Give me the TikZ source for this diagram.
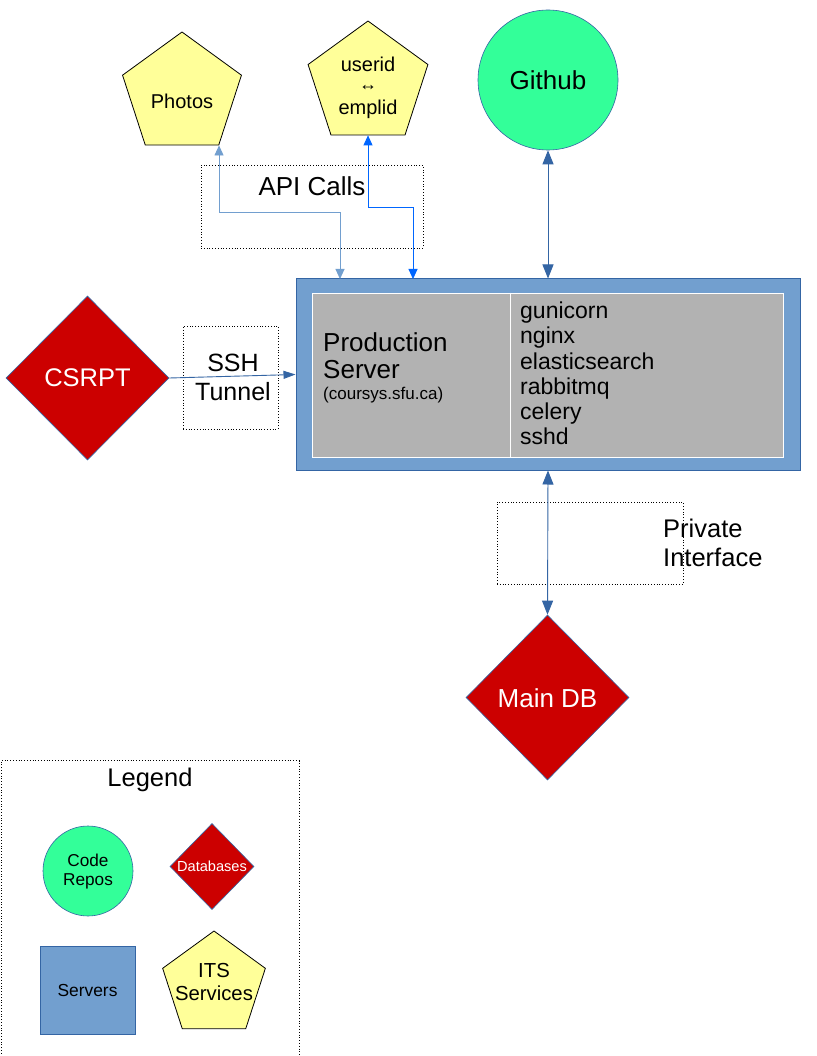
\documentclass[tikz,border=0pt]{standalone}
\usepackage{fontspec}
\setmainfont{Liberation Sans}
\usetikzlibrary{shapes.geometric,arrows.meta}
\definecolor{its}{HTML}{FFFF99}
\definecolor{repo}{HTML}{33FF99}
\definecolor{dbred}{HTML}{CC0000}
\definecolor{srv}{HTML}{729FCF}
\definecolor{srvline}{HTML}{3465A4}
\definecolor{graybox}{HTML}{B2B2B2}
\definecolor{brightblue}{HTML}{0066FF}
\newcommand{\fs}[1]{\fontsize{#1}{#1}\selectfont}
\tikzset{
  itsbox/.style={regular polygon, regular polygon sides=5, fill=its, draw=black, line width=0.8pt, inner sep=0pt},
  repobox/.style={circle, fill=repo, draw=srvline, line width=0.6pt, inner sep=0pt},
  dbbox/.style={diamond, fill=dbred, draw=srvline, line width=0.6pt, inner sep=0pt},
  srvbox/.style={rectangle, fill=srv, draw=srvline, line width=1pt, inner sep=0pt},
  dotbox/.style={rectangle, draw=black, dotted, line width=0.8pt, inner sep=0pt},
  txt/.style={inner sep=0pt, text=black},
  wtxt/.style={inner sep=0pt, text=white},
  conn/.style={line width=0.9pt, draw=srvline, {Triangle[length=14pt,width=11pt]}-{Triangle[length=14pt,width=11pt]}},
  apiconn/.style={line width=0.9pt, {Triangle[length=10pt,width=9pt]}-{Triangle[length=10pt,width=9pt]}},
}
\begin{document}
\begin{tikzpicture}[x=1pt,y=-1pt]
\useasboundingbox (0,0) rectangle (816,1056);
\fill[white] (0,0) rectangle (816,1056);

% dotted label boxes
\node[dotbox, minimum width=222, minimum height=83] (apibox) at (312,206.5) {};
\node[dotbox, minimum width=95, minimum height=103] (sshbox) at (230.5,377.5) {};
\node[dotbox, minimum width=186, minimum height=82] (privbox) at (590,543) {};

% ITS services
\node[itsbox, minimum size=125] (photos) at (182,94.5) {};
\node[txt, font=\fs{20}] (photostxt) at (182,101) {Photos};
\node[itsbox, minimum size=126] (userid) at (368,84) {};
\node[txt, font=\fs{20}] (useridtxt) at (368,64) {userid};
\node[txt, font=\fs{18}] (arrtxt) at (368,88) {↔};
\node[txt, font=\fs{20}] (emplidtxt) at (368,109) {emplid};

% Github
\node[repobox, minimum size=140] (github) at (548,80) {};
\node[txt, font=\fs{26}] (githubtxt) at (548,80) {Github};

% Production server
\node[srvbox, minimum width=504, minimum height=191] (server) at (548,374.5) {};
\node[rectangle, fill=graybox, draw=white, line width=0.8pt, minimum width=471, minimum height=164, inner sep=0pt] (inner) at (547.5,375) {};
\draw[white, line width=0.8pt] (inner.north west -| 510,0) coordinate (divtop) -- (divtop |- inner.south);
\node[txt, font=\fontsize{26}{27}\selectfont, align=left, anchor=west] (prodtxt) at (323,356) {Production\\Server};
\node[txt, font=\fs{17}, anchor=west] (coursys) at (323,395) {(coursys.sfu.ca)};
\node[txt, font=\fontsize{23}{25.2}\selectfont, align=left, anchor=west] (svc) at (520,373.5) {gunicorn\\nginx\\elasticsearch\\rabbitmq\\celery\\sshd};

% CSRPT
\node[dbbox, minimum width=163, minimum height=164] (csrpt) at (87.5,378) {};
\node[wtxt, font=\fs{25.5}] (csrpttxt) at (87.5,378) {CSRPT};

% Main DB
\node[dbbox, minimum width=163, minimum height=165] (maindb) at (547.5,697.5) {};
\node[wtxt, font=\fs{26}] (maindbtxt) at (547.5,698) {Main DB};

% labels
\node[txt, font=\fs{26}] (apitxt) at (312,186) {API Calls};
\node[txt, font=\fontsize{25}{29}\selectfont, align=center] (sshtxt) at (233,377) {SSH\\Tunnel};
\node[txt, font=\fontsize{25.5}{29}\selectfont, align=left, anchor=west] (privtxt) at (663,542.5) {Private\\Interface};

% connectors
\coordinate (ps) at (340,279);
\coordinate (us) at (413,279);
\draw[apiconn, draw=srv, color=srv] (photos.corner 4) |- (340,212) -- (ps);
\draw[apiconn, draw=brightblue, color=brightblue] (userid.side 3) |- (413,207.5) -- (us);
\draw[conn] (github.south) -- (server.north);
\draw[conn] (server.south) -- (maindb.north);
\draw[line width=0.9pt, draw=srvline, -{Triangle[length=12pt,width=8pt]}] (csrpt.east) -- (server.west);

% Legend
\draw[dotted, line width=0.8pt] (1,1062) -- (1,760.5) -- (299,760.5) -- (299,1062);
\node[txt, font=\fs{25.5}] (legend) at (150,780) {Legend};
\node[repobox, minimum size=90] (lrepo) at (88,871) {};
\node[txt, font=\fontsize{17.2}{19.5}\selectfont, align=center] (lrepotxt) at (88,871.5) {Code\\Repos};
\node[dbbox, minimum width=84, minimum height=86] (ldb) at (212,866.5) {};
\node[wtxt, font=\fs{14.6}] (ldbtxt) at (212,866) {Databases};
\node[srvbox, minimum width=95, minimum height=88, line width=0.8pt] (lsrv) at (87.5,990) {};
\node[txt, font=\fs{17.4}] (lsrvtxt) at (87.5,990) {Servers};
\node[itsbox, minimum size=108] (lits) at (214,985) {};
\node[txt, font=\fontsize{20.3}{23}\selectfont, align=center] (litstxt) at (214,981.5) {ITS\\Services};
\end{tikzpicture}
\end{document}
